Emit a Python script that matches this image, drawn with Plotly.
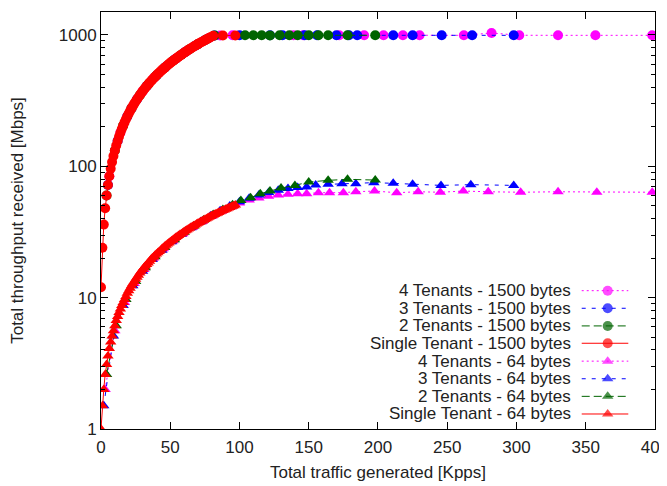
import plotly.graph_objects as go

# ---------------- data ----------------
# 1500-byte packets
T4_1500_X = [6, 14, 22, 30, 38, 46, 54, 62, 70, 78, 86, 95, 139, 146, 172, 190, 204, 218, 230, 262, 282, 302, 330, 357, 398]
T4_1500_Y = [84, 180, 276, 372, 468, 564, 660, 756, 852, 948, 992, 995, 995, 994, 996, 995, 994, 996, 995, 994, 1035, 995, 994, 995, 994]

T3_1500_X = [5, 12, 19, 26, 33, 40, 47, 54, 61, 68, 75, 82, 100, 122, 131, 147, 156, 170, 179, 185, 211, 225, 246, 268, 298]
T3_1500_Y = [72, 156, 240, 324, 408, 492, 576, 660, 744, 828, 912, 990, 995, 994, 996, 995, 994, 995, 996, 995, 994, 995, 996, 995, 994]

T2_1500_X = [4, 10, 16, 22, 28, 34, 40, 46, 52, 58, 64, 70, 76, 82, 104, 110, 116, 122, 129, 136, 142, 150, 157, 164, 178, 198]
T2_1500_Y = [60, 132, 204, 276, 348, 420, 492, 564, 636, 708, 780, 852, 924, 990, 994, 996, 995, 993, 995, 996, 994, 995, 995, 996, 994, 995]

T1_1500_X = [0, 1, 2, 3, 4, 5, 6, 7, 8, 9, 10, 11, 12, 13, 14, 15, 16, 17, 18, 19,
             20, 21, 22, 23, 24, 25, 26, 27, 28, 29, 30, 31, 32, 33, 34, 35, 36, 37, 38, 39,
             40, 41, 42, 43, 44, 45, 46, 47, 48, 49, 50, 51, 52, 53, 54, 55, 56, 57, 58, 59,
             60, 61, 62, 63, 64, 65, 66, 67, 68, 69, 70, 71, 72, 73, 74, 75, 76, 77, 78, 79,
             81, 88, 97]
T1_1500_Y = [12, 24, 36, 48, 60, 72, 84, 96, 108, 120, 132, 144, 156, 168, 180, 192, 204, 216, 228, 240,
             252, 264, 276, 288, 300, 312, 324, 336, 348, 360, 372, 384, 396, 408, 420, 432, 444, 456, 468, 480,
             492, 504, 516, 528, 540, 552, 564, 576, 588, 600, 612, 624, 636, 648, 660, 672, 684, 696, 708, 720,
             732, 744, 756, 768, 780, 792, 804, 816, 828, 840, 852, 864, 876, 888, 900, 912, 924, 936, 948, 960,
             985, 990, 990]

# 64-byte packets
T4_64_X = [3, 10, 17, 24, 31, 38, 45, 52, 59, 66, 73, 80, 87, 94, 100, 107, 114, 121, 128, 135,
           142, 148.5, 157, 165, 175, 184, 197.5, 213.5, 229, 245, 261.6, 279.6, 303, 330, 358, 398]
T4_64_Y = [2.0, 5.6, 9.2, 12.8, 16.4, 20.0, 23.6, 27.1, 30.7, 34.3, 38.0, 41.8, 45.6, 49.3, 52.5, 55.3, 57.5, 59.2, 60.4, 61.2,
           61.7, 61.9, 63.0, 63.0, 63.0, 64.1, 64.8, 63.0, 64.0, 63.5, 64.8, 64.0, 63.5, 64.0, 63.5, 63.5]

T3_64_X = [2, 9, 16, 23, 30, 37, 44, 51, 58, 65, 72, 79, 86, 93, 100, 107, 114, 121, 128, 135,
           142, 148.5, 155, 164, 174, 184, 197, 211, 225, 245.5, 267, 298]
T3_64_Y = [1.5, 5.1, 8.7, 12.3, 15.9, 19.5, 23.0, 26.6, 30.4, 34.0, 37.8, 41.8, 45.8, 49.8, 53.8, 57.2, 60.5, 63.2, 65.8, 67.8,
           69.0, 69.5, 72.0, 72.9, 73.8, 73.8, 75.1, 74.2, 72.9, 71.6, 72.5, 71.6]

T2_64_X = [4, 11, 18, 25, 32, 39, 46, 53, 60, 67, 74, 81, 88, 95, 101, 108, 115, 122, 130, 140, 150, 164, 178, 198]
T2_64_Y = [2.6, 6.1, 9.7, 13.3, 16.9, 20.5, 24.1, 27.6, 31.5, 35.2, 39.0, 43.0, 47.0, 51.0, 55.0, 57.7, 61.9, 64.8, 68.3, 71.6,
           75.9, 78.2, 79.6, 78.6]

T1_64_X = [0, 1, 2, 3, 4, 5, 6, 7, 8, 9, 10, 11, 12, 13, 14, 15, 16, 17, 18, 19,
           20, 21, 22, 23, 24, 25, 26, 27, 28, 29, 30, 31, 32, 33, 34, 35, 36, 37, 38, 39,
           40, 41, 42, 43, 44, 45, 46, 47, 48, 49, 50, 51, 52, 53, 54, 55, 56, 57, 58, 59,
           60, 61, 62, 63, 64, 65, 66, 67, 68, 69, 70, 71, 72, 73, 74, 75, 76, 77, 78, 79,
           80, 81, 82, 83, 84, 85, 86, 87, 88, 89, 90, 91, 92, 93, 94, 95, 96, 97]
T1_64_Y = [1.0, 1.5, 2.0, 2.6, 3.1, 3.6, 4.1, 4.6, 5.1, 5.6,
           6.1, 6.7, 7.2, 7.7, 8.2, 8.7, 9.2, 9.7, 10.2, 10.8,
           11.3, 11.8, 12.3, 12.8, 13.3, 13.8, 14.3, 14.8, 15.4, 15.9,
           16.4, 16.9, 17.4, 17.9, 18.4, 18.9, 19.5, 20.0, 20.5, 21.0,
           21.5, 22.0, 22.5, 23.0, 23.6, 24.1, 24.6, 25.1, 25.6, 26.1,
           26.6, 27.1, 27.6, 28.2, 28.7, 29.2, 29.7, 30.2, 30.7, 31.2,
           31.7, 32.3, 32.8, 33.3, 33.8, 34.3, 34.8, 35.3, 35.8, 36.4,
           36.9, 37.4, 37.9, 38.4, 38.9, 39.4, 39.9, 40.4, 41.0, 41.5,
           42.0, 42.5, 43.0, 43.5, 44.0, 44.5, 45.1, 45.6, 46.1, 46.6,
           47.1, 47.6, 48.1, 48.6, 49.2, 49.7, 50.2, 50.7]

NAMES = ["4 Tenants - 1500 bytes", "3 Tenants - 1500 bytes", "2 Tenants - 1500 bytes",
         "Single Tenant - 1500 bytes", "4 Tenants - 64 bytes", "3 Tenants - 64 bytes",
         "2 Tenants - 64 bytes", "Single Tenant - 64 bytes"]

X_TICKS = [0, 50, 100, 150, 200, 250, 300, 350, 400]
X_TICK_TEXT = ["0", "50", "100", "150", "200", "250", "300", "350", "400"]
Y_TICKS = [1, 10, 100, 1000]
Y_TICK_TEXT = ["1", "10", "100", "1000"]
Y_MINOR = [2, 3, 4, 5, 6, 7, 8, 9, 20, 30, 40, 50, 60, 70, 80, 90, 200, 300, 400, 500, 600, 700, 800, 900]

# ---------------- styles ----------------
MAGENTA, BLUE, GREEN, RED = "#ff00ff", "#0000ff", "#006400", "#ff0000"
series = [
    (T4_1500_X, T4_1500_Y, MAGENTA, "2px,3px", "circle", 10),
    (T3_1500_X, T3_1500_Y, BLUE, "4px,6px", "circle", 10),
    (T2_1500_X, T2_1500_Y, GREEN, "8px,4px", "circle", 10),
    (T1_1500_X, T1_1500_Y, RED, "solid", "circle", 10),
    (T4_64_X, T4_64_Y, MAGENTA, "2px,3px", "triangle-up", 10),
    (T3_64_X, T3_64_Y, BLUE, "4px,6px", "triangle-up", 10),
    (T2_64_X, T2_64_Y, GREEN, "8px,4px", "triangle-up", 10),
    (T1_64_X, T1_64_Y, RED, "solid", "triangle-up", 10),
]

FONT = "Liberation Sans, Arial, sans-serif"
TXT = "#222222"

fig = go.Figure()
for (xs, ys, col, dash, sym, size), name in zip(series, NAMES):
    fig.add_trace(go.Scatter(
        x=xs, y=ys, name=name, mode="lines+markers",
        line=dict(color=col, width=1, dash=dash),
        marker=dict(color=col, symbol=sym, size=size, line=dict(width=0)),
        showlegend=False,
    ))

# gnuplot-style key: text right-aligned, sample on the right
ROW_Y = [0.3317, 0.2895, 0.2472, 0.2056, 0.1627, 0.1205, 0.0783, 0.0360]
KEY_TEXT_X = 0.8514
KEY_X = [0.8677, 0.9146, 0.9518]
annotations = []
for (xs, ys, col, dash, sym, size), name, ry in zip(series, NAMES, ROW_Y):
    fig.add_trace(go.Scatter(
        x=KEY_X, y=[ry, ry, ry], xaxis="x2", yaxis="y2", mode="lines+markers",
        line=dict(color=col, width=1, dash=dash),
        marker=dict(color=col, symbol=sym, size=[0, size, 0], line=dict(width=0)),
        showlegend=False, hoverinfo="skip",
    ))
    annotations.append(dict(
        x=KEY_TEXT_X, y=ry, xref="paper", yref="paper", text=name, showarrow=False,
        xanchor="right", yanchor="middle", font=dict(family=FONT, size=17, color=TXT),
    ))

axis_common = dict(
    showline=True, linecolor="black", linewidth=1, mirror="allticks",
    ticks="inside", ticklen=7, tickcolor="black", showgrid=False, zeroline=False,
    tickfont=dict(family=FONT, size=17, color=TXT), automargin=False,
)

# the page body adds an 8px offset, so the figure is 8px smaller and margins shifted
fig.update_layout(
    width=659, height=478,
    margin=dict(l=93, r=12, t=4, b=57, autoexpand=False),
    paper_bgcolor="white", plot_bgcolor="white",
    showlegend=False,
    annotations=annotations,
    xaxis=dict(
        range=[0, 400.01], tickvals=X_TICKS, ticktext=X_TICK_TEXT, ticklabelstandoff=3,
        ticklabeloverflow="allow",
        title=dict(text="Total traffic generated [Kpps]", font=dict(family=FONT, size=17, color=TXT), standoff=9),
        **axis_common,
    ),
    yaxis=dict(
        type="log", range=[0, 3.175], tickvals=Y_TICKS, ticktext=Y_TICK_TEXT,
        minor=dict(tickvals=Y_MINOR, ticks="inside", ticklen=4, tickcolor="black", showgrid=False),
        title=dict(text="Total throughput received [Mbps]", font=dict(family=FONT, size=17, color=TXT), standoff=30),
        **axis_common,
    ),
    xaxis2=dict(overlaying="x", anchor="y2", range=[0, 1], visible=False, fixedrange=True, automargin=False),
    yaxis2=dict(overlaying="y", anchor="x2", range=[0, 1], visible=False, fixedrange=True, automargin=False),
)

fig.write_html("out.html")
